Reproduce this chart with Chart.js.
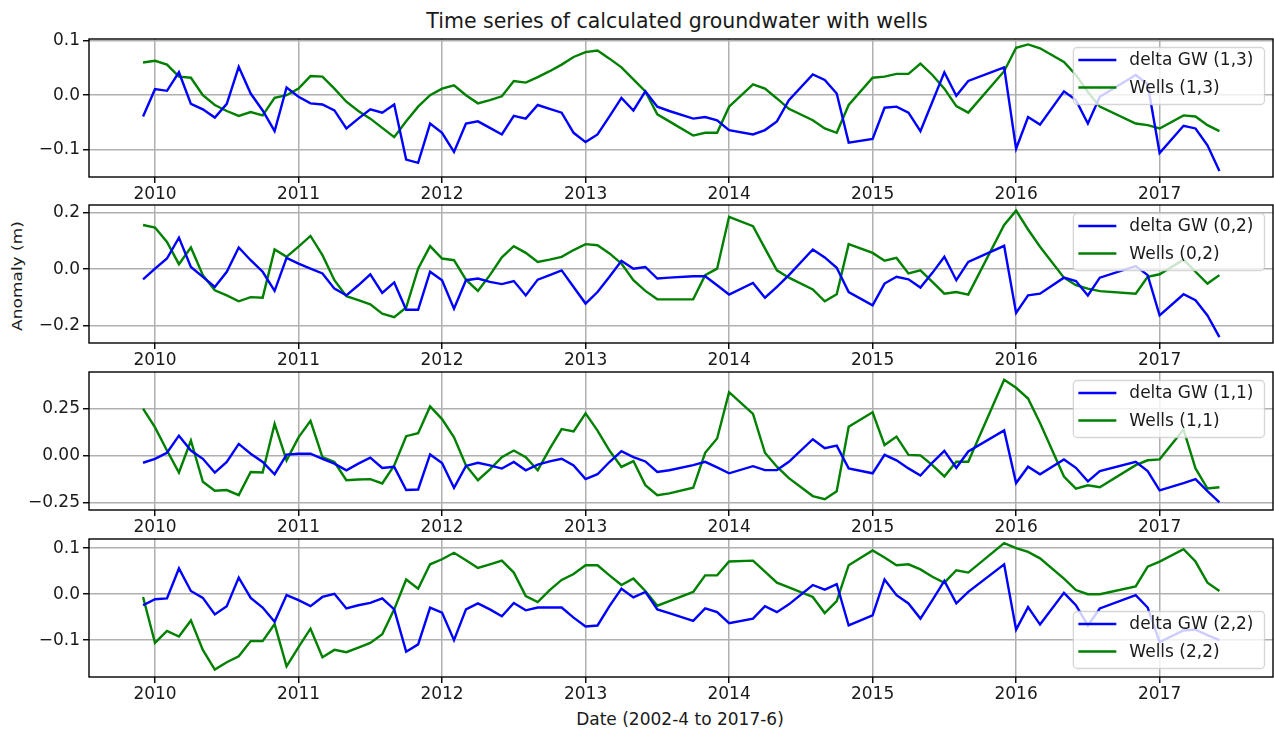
<!DOCTYPE html>
<html>
<head>
<meta charset="utf-8">
<title>Groundwater anomalies with wells</title>
<script src="https://cdn.jsdelivr.net/npm/chart.js@4.4.0/dist/chart.umd.min.js"></script>
<style>
  body { margin: 0; background: #fff; }
  #fig { position: relative; width: 1274px; height: 731px; overflow: hidden;
         font-family: 'DejaVu Sans', sans-serif; color: #1a1a1a; }
  #fig canvas { position: absolute; left: 0; }
  .txt { position: absolute; white-space: nowrap; line-height: 1; }
  #title { left: 677px; top: 11px; font-size: 20.5px; transform: translateX(-50%); }
  #xlabel { left: 680px; top: 711px; font-size: 17px; transform: translateX(-50%); }
  #ylabel { left: 17px; top: 276px; font-size: 17px;
            transform: translate(-50%, -50%) rotate(-90deg) scaleY(0.85); }
</style>
</head>
<body>
<div id="fig">
  <div class="txt" id="title">Time series of calculated groundwater with wells</div>
  <div class="txt" id="ylabel">Anomaly (m)</div>
  <div class="txt" id="xlabel">Date (2002-4 to 2017-6)</div>
</div>
<script>
// monthly solutions (some months missing)
const months = [
  '2009-12',
  '2010-01','2010-02','2010-03','2010-04','2010-05','2010-06','2010-07','2010-08','2010-09','2010-10','2010-11','2010-12',
  '2011-01','2011-02','2011-03','2011-04','2011-05','2011-06','2011-07','2011-08','2011-09','2011-10','2011-11','2011-12',
  '2012-01','2012-02','2012-03','2012-04','2012-05','2012-06','2012-07','2012-08','2012-09','2012-10','2012-11','2012-12',
  '2013-01','2013-02','2013-03','2013-04','2013-05','2013-06','2013-07','2013-08','2013-10','2013-11','2013-12',
  '2014-01','2014-03','2014-04','2014-05','2014-06','2014-08','2014-09','2014-10','2014-11',
  '2015-01','2015-02','2015-03','2015-04','2015-05','2015-06','2015-07','2015-08','2015-09','2015-12',
  '2016-01','2016-02','2016-03','2016-05','2016-06','2016-07','2016-08','2016-11','2016-12',
  '2017-01','2017-03','2017-04','2017-05','2017-06'
];

// cell (1,3)
const gw13 = [
  -0.039, 0.011, 0.008, 0.042, -0.016, -0.026, -0.041, -0.016, 0.052, 0.003, -0.028, -0.066, 0.014,
  -0.003, -0.015, -0.017, -0.028, -0.061, -0.043, -0.026, -0.032, -0.017, -0.118, -0.124, -0.052,
  -0.069, -0.104, -0.052, -0.048, -0.060, -0.072, -0.038, -0.043, -0.018, -0.025, -0.032, -0.069,
  -0.086, -0.072, -0.039, -0.005, -0.028, 0.007, -0.021, -0.029, -0.043, -0.040, -0.046,
  -0.064, -0.072, -0.064, -0.048, -0.009, 0.038, 0.028, 0.003, -0.087,
  -0.080, -0.023, -0.021, -0.032, -0.066, -0.012, 0.042, -0.001, 0.026, 0.051,
  -0.098, -0.040, -0.054, 0.007, -0.009, -0.052, -0.003, 0.037, 0.020,
  -0.106, -0.056, -0.061, -0.092, -0.139
];
const wells13 = [
  0.060, 0.063, 0.056, 0.034, 0.032, 0.000, -0.018, -0.029, -0.038, -0.031, -0.037, -0.005, 0.000,
  0.012, 0.035, 0.034, 0.012, -0.012, -0.029, -0.043, -0.060, -0.077, -0.048, -0.021, 0.000,
  0.012, 0.018, 0.000, -0.015, -0.009, -0.002, 0.026, 0.023, 0.033, 0.044, 0.056, 0.070,
  0.079, 0.082, 0.067, 0.051, 0.029, 0.007, -0.035, -0.048, -0.074, -0.069, -0.069,
  -0.021, 0.020, 0.012, -0.006, -0.025, -0.046, -0.061, -0.069, -0.018,
  0.032, 0.034, 0.039, 0.039, 0.058, 0.037, 0.012, -0.020, -0.032, 0.044,
  0.087, 0.093, 0.086, 0.061, 0.037, 0.006, -0.021, -0.052, -0.055,
  -0.061, -0.037, -0.039, -0.055, -0.066
];

// cell (0,2)
const gw02 = [
  -0.036, 0.002, 0.038, 0.112, 0.008, -0.027, -0.063, -0.009, 0.077, 0.032, -0.009, -0.077, 0.040,
  0.020, 0.002, -0.015, -0.069, -0.093, -0.057, -0.018, -0.084, -0.047, -0.144, -0.144, -0.009,
  -0.039, -0.140, -0.039, -0.033, -0.045, -0.053, -0.042, -0.093, -0.037, -0.021, -0.004, -0.063,
  -0.122, -0.081, -0.027, 0.030, 0.002, 0.008, -0.033, -0.030, -0.025, -0.025, -0.057,
  -0.090, -0.049, -0.101, -0.063, -0.021, 0.070, 0.042, 0.005, -0.081,
  -0.128, -0.051, -0.027, -0.036, -0.065, -0.013, 0.044, -0.039, 0.026, 0.083,
  -0.155, -0.093, -0.087, -0.030, -0.042, -0.093, -0.030, 0.011, -0.021,
  -0.164, -0.089, -0.110, -0.164, -0.241
];
const wells02 = [
  0.157, 0.148, 0.097, 0.018, 0.077, -0.021, -0.075, -0.093, -0.114, -0.099, -0.101, 0.070, 0.044,
  0.080, 0.118, 0.050, -0.039, -0.096, -0.110, -0.125, -0.158, -0.170, -0.136, 0.002, 0.082,
  0.038, 0.032, -0.037, -0.077, -0.021, 0.042, 0.082, 0.058, 0.026, 0.034, 0.044, 0.068,
  0.089, 0.085, 0.056, 0.020, -0.039, -0.077, -0.107, -0.107, -0.107, -0.021, 0.002,
  0.186, 0.153, 0.074, -0.004, -0.030, -0.072, -0.114, -0.089, 0.089,
  0.058, 0.030, 0.040, -0.015, -0.004, -0.045, -0.087, -0.081, -0.090, 0.157,
  0.208, 0.141, 0.080, -0.030, -0.057, -0.069, -0.078, -0.087, -0.027,
  -0.018, 0.034, -0.009, -0.051, -0.021
];

// cell (1,1)
const gw11 = [
  -0.039, -0.018, 0.014, 0.105, 0.026, -0.018, -0.091, -0.035, 0.061, 0.009, -0.035, -0.100, 0.004,
  0.009, 0.009, -0.018, -0.044, -0.079, -0.044, -0.012, -0.067, -0.061, -0.184, -0.181, 0.005,
  -0.040, -0.172, -0.056, -0.039, -0.053, -0.070, -0.035, -0.079, -0.049, -0.032, -0.018, -0.053,
  -0.126, -0.100, -0.035, 0.023, -0.009, -0.032, -0.088, -0.079, -0.052, -0.034, -0.064,
  -0.095, -0.057, -0.078, -0.078, -0.034, 0.086, 0.038, 0.052, -0.069,
  -0.095, 0.003, -0.026, -0.069, -0.107, -0.038, 0.024, -0.066, 0.021, 0.133,
  -0.147, -0.060, -0.100, -0.022, -0.066, -0.138, -0.083, -0.034, -0.083,
  -0.186, -0.147, -0.126, -0.190, -0.250
];
const wells11 = [
  0.249, 0.149, 0.026, -0.091, 0.079, -0.140, -0.188, -0.184, -0.211, -0.088, -0.091, 0.167, -0.026,
  0.096, 0.184, -0.009, -0.035, -0.132, -0.128, -0.126, -0.149, -0.053, 0.102, 0.118, 0.260,
  0.193, 0.096, -0.053, -0.132, -0.074, -0.009, 0.026, -0.009, -0.079, 0.035, 0.140, 0.128,
  0.223, 0.132, 0.026, -0.061, -0.030, -0.158, -0.211, -0.202, -0.172, 0.014, 0.090,
  0.336, 0.221, 0.014, -0.060, -0.121, -0.216, -0.233, -0.190, 0.152,
  0.229, 0.055, 0.100, 0.003, 0.000, -0.052, -0.112, -0.034, -0.034, 0.402,
  0.359, 0.302, 0.172, -0.112, -0.176, -0.159, -0.169, -0.052, -0.026,
  -0.021, 0.138, -0.069, -0.176, -0.169
];

// cell (2,2)
const gw22 = [
  -0.024, -0.011, -0.009, 0.056, 0.007, -0.008, -0.044, -0.026, 0.036, -0.008, -0.029, -0.060, -0.002,
  -0.013, -0.026, -0.006, 0.001, -0.031, -0.024, -0.019, -0.009, -0.033, -0.125, -0.109, -0.029,
  -0.040, -0.100, -0.033, -0.020, -0.033, -0.048, -0.019, -0.035, -0.029, -0.029, -0.029, -0.051,
  -0.070, -0.068, -0.026, 0.012, -0.007, 0.005, -0.033, -0.041, -0.058, -0.031, -0.039,
  -0.063, -0.053, -0.026, -0.039, -0.022, 0.020, 0.010, 0.022, -0.068,
  -0.046, 0.032, -0.002, -0.020, -0.053, -0.013, 0.029, -0.020, 0.005, 0.065,
  -0.077, -0.028, -0.066, 0.003, -0.024, -0.068, -0.031, -0.002, -0.029,
  -0.104, -0.079, -0.077, -0.089, -0.100
];
const wells22 = [
  -0.006, -0.106, -0.080, -0.092, -0.057, -0.121, -0.164, -0.148, -0.135, -0.102, -0.102, -0.065, -0.157,
  -0.115, -0.075, -0.137, -0.121, -0.126, -0.116, -0.106, -0.087, -0.033, 0.032, 0.012, 0.065,
  0.076, 0.090, 0.074, 0.057, 0.065, 0.073, 0.047, -0.004, -0.017, 0.009, 0.031, 0.044, 0.063,
  0.063, 0.041, 0.020, 0.034, 0.007, -0.025, -0.015, 0.005, 0.041, 0.041,
  0.071, 0.073, 0.049, 0.025, 0.015, -0.006, -0.041, -0.015, 0.063,
  0.095, 0.080, 0.063, 0.065, 0.054, 0.038, 0.025, 0.052, 0.047, 0.111,
  0.100, 0.092, 0.078, 0.034, 0.009, 0.000, 0.000, 0.017, 0.060,
  0.071, 0.098, 0.071, 0.025, 0.007
];

// axis ticks
const years = [2010, 2011, 2012, 2013, 2014, 2015, 2016, 2017];
const yTicks13 = [-0.1, 0, 0.1],   yLabels13 = ['\u22120.1', '0.0', '0.1'];
const yTicks02 = [-0.2, 0, 0.2],   yLabels02 = ['\u22120.2', '0.0', '0.2'];
const yTicks11 = [-0.25, 0, 0.25], yLabels11 = ['\u22120.25', '0.00', '0.25'];
const yTicks22 = [-0.1, 0, 0.1],   yLabels22 = ['\u22120.1', '0.0', '0.1'];

const X_MIN = 2009.54, X_MAX = 2017.79;
const PLOT_H = 138, TOP_PAD = 14, X_AXIS_H = 36, Y_AXIS_W = 89;
const GRID = '#b0b0b0', INK = '#1a1a1a';

const panels = [
  { cell: '(1,3)', gw: gw13, wells: wells13, top: 39,  min: -0.150, max: 0.103, ticks: yTicks13, labels: yLabels13, legend: 'top' },
  { cell: '(0,2)', gw: gw02, wells: wells02, top: 205, min: -0.262, max: 0.228, ticks: yTicks02, labels: yLabels02, legend: 'top' },
  { cell: '(1,1)', gw: gw11, wells: wells11, top: 372, min: -0.290, max: 0.443, ticks: yTicks11, labels: yLabels11, legend: 'top' },
  { cell: '(2,2)', gw: gw22, wells: wells22, top: 539, min: -0.180, max: 0.120, ticks: yTicks22, labels: yLabels22, legend: 'bottom' }
];

const xs = months.map(m => {
  const [y, mo] = m.split('-').map(Number);
  return y + (mo - 1) / 12;
});

Chart.defaults.font.family = "'DejaVu Sans', sans-serif";
Chart.defaults.font.size = 17;
Chart.defaults.color = INK;

// black box around each axes, drawn over the lines
const axesFrame = {
  id: 'axesFrame',
  afterDatasetsDraw(chart) {
    const { ctx, chartArea: a } = chart;
    ctx.save();
    ctx.strokeStyle = '#000';
    ctx.lineWidth = 1.4;
    ctx.strokeRect(a.left, a.top, a.right - a.left, a.bottom - a.top);
    ctx.restore();
  }
};

// legend box placed inside the plot area
const insetLegend = {
  id: 'insetLegend',
  afterDraw(chart, args, opts) {
    const { ctx, chartArea: a } = chart;
    const sets = chart.data.datasets;
    ctx.save();
    ctx.font = "17px 'DejaVu Sans', sans-serif";
    const textW = Math.max(...sets.map(d => ctx.measureText(d.label).width));
    const w = 56 + textW + 11, h = 57, r = 4, inset = 8.5;
    const x = a.right - inset - w;
    const y = opts.at === 'bottom' ? a.bottom - inset - h : a.top + inset;

    ctx.beginPath();
    ctx.moveTo(x + r, y);
    ctx.arcTo(x + w, y, x + w, y + h, r);
    ctx.arcTo(x + w, y + h, x, y + h, r);
    ctx.arcTo(x, y + h, x, y, r);
    ctx.arcTo(x, y, x + w, y, r);
    ctx.closePath();
    ctx.fillStyle = 'rgba(255,255,255,0.8)';
    ctx.fill();
    ctx.strokeStyle = 'rgba(204,204,204,0.8)';
    ctx.lineWidth = 1.3;
    ctx.stroke();

    sets.forEach((d, i) => {
      const cy = y + 12.5 + i * 27.5;
      ctx.strokeStyle = d.borderColor;
      ctx.lineWidth = 2.4;
      ctx.beginPath();
      ctx.moveTo(x + 5, cy);
      ctx.lineTo(x + 43, cy);
      ctx.stroke();
      ctx.fillStyle = INK;
      ctx.textBaseline = 'middle';
      ctx.fillText(d.label, x + 56, cy + 1);
    });
    ctx.restore();
  }
};

Chart.register(axesFrame, insetLegend);

const fig = document.getElementById('fig');

panels.forEach(p => {
  const canvas = document.createElement('canvas');
  canvas.width = 1274;
  canvas.height = TOP_PAD + PLOT_H + X_AXIS_H;
  canvas.style.top = (p.top - TOP_PAD) + 'px';
  fig.appendChild(canvas);

  new Chart(canvas, {
    type: 'line',
    data: {
      datasets: [
        { label: 'delta GW ' + p.cell, data: xs.map((x, k) => ({ x, y: p.gw[k] })), borderColor: '#0000ff' },
        { label: 'Wells ' + p.cell, data: xs.map((x, k) => ({ x, y: p.wells[k] })), borderColor: '#008000' }
      ]
    },
    options: {
      responsive: false,
      animation: false,
      devicePixelRatio: 1,
      layout: { autoPadding: false, padding: { top: TOP_PAD, right: 1, bottom: 0, left: 0 } },
      elements: {
        point: { radius: 0 },
        line: { borderWidth: 2.4, tension: 0, fill: false }
      },
      plugins: {
        legend: { display: false },
        tooltip: { enabled: false },
        insetLegend: { at: p.legend }
      },
      scales: {
        x: {
          type: 'linear',
          min: X_MIN,
          max: X_MAX,
          afterBuildTicks: s => { s.ticks = years.map(v => ({ value: v })); },
          afterFit: s => { s.height = X_AXIS_H; s.paddingLeft = 0; s.paddingRight = 0; },
          ticks: { callback: v => String(v), padding: 1, maxRotation: 0, autoSkip: false, color: INK },
          grid: { color: GRID, lineWidth: 1.5, tickColor: '#000', tickLength: 6, tickWidth: 1.4 },
          border: { display: false }
        },
        y: {
          min: p.min,
          max: p.max,
          afterBuildTicks: s => { s.ticks = p.ticks.map(v => ({ value: v })); },
          afterFit: s => { s.width = Y_AXIS_W; s.paddingTop = 0; s.paddingBottom = 0; },
          ticks: { callback: (v, i) => p.labels[i], padding: 3, color: INK },
          grid: { color: GRID, lineWidth: 1.5, tickColor: '#000', tickLength: 6, tickWidth: 1.4 },
          border: { display: false }
        }
      }
    }
  });
});
</script>
</body>
</html>
